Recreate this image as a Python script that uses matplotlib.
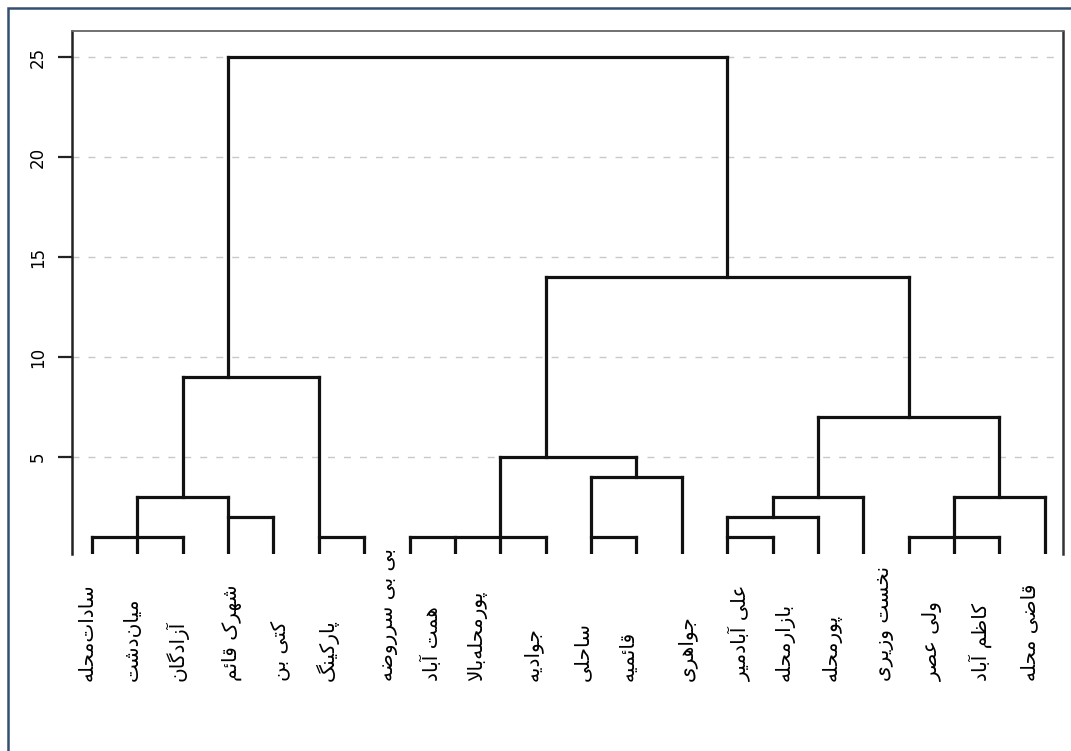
import matplotlib.pyplot as plt
import matplotlib.transforms as mtransforms
from matplotlib.patches import Rectangle
import numpy as np

# --- datos del dendrograma (posiciones en unidades de hoja, alturas de fusión) ---
labels = ['سادات‌محله', 'میان‌دشت', 'آزادگان', 'شهرک قائم', 'کتی بن', 'پارکینگ',
          'بی بی سرروضه', 'همت آباد', 'پورمحله‌بالا', 'جوادیه', 'ساحلی', 'قائمیه',
          'جواهری', 'علی آبادمیر', 'بازارمحله', 'پورمحله', 'نخست وزیری', 'ولی عصر',
          'کاظم آباد', 'قاضی محله']
label_x = [-0.11, 0.88, 1.87, 3.09, 4.14, 5.18, 6.54, 7.49, 8.48, 9.72, 10.8,
           11.81, 13.11, 14.28, 15.27, 16.31, 17.47, 18.53, 19.57, 20.67]

# altura hasta la que sube cada hoja (22 hojas)
leaf_top = [1, 3, 1, 3, 2, 9, 1, 1, 1, 5, 1, 4, 1, 4, 2, 1, 2, 3, 1, 3, 1, 3]

# barras horizontales: hoja izq, hoja der, altura
bar_left = [0, 1, 3, 5, 2, 3, 7, 9, 11, 11, 10, 16, 15, 14, 14, 19, 18]
bar_right = [2, 3, 4, 6, 5, 14, 10, 12, 13, 12, 18, 20, 17, 16, 15, 21, 20]
bar_height = [1, 3, 2, 1, 9, 25, 1, 5, 4, 1, 14, 7, 3, 2, 1, 3, 1]

# troncos verticales entre fusiones: x, desde, hasta
stem_x = [2, 3, 14, 10, 12, 18, 16, 15, 20]
stem_from = [3, 9, 14, 5, 4, 7, 3, 2, 3]
stem_to = [9, 25, 25, 14, 5, 14, 7, 3, 7]

yticks = [5, 10, 15, 20, 25]


# --- formas contextuales del persa (matplotlib no hace shaping) ---
FORMS = {
    'ا': ('\uFE8D', '\uFE8E', None, None),
    'آ': ('\uFE81', '\uFE82', None, None),
    'ب': ('\uFE8F', '\uFE90', '\uFE91', '\uFE92'),
    'پ': ('\uFB56', '\uFB57', '\uFB58', '\uFB59'),
    'ت': ('\uFE95', '\uFE96', '\uFE97', '\uFE98'),
    'ج': ('\uFE9D', '\uFE9E', '\uFE9F', '\uFEA0'),
    'ح': ('\uFEA1', '\uFEA2', '\uFEA3', '\uFEA4'),
    'خ': ('\uFEA5', '\uFEA6', '\uFEA7', '\uFEA8'),
    'د': ('\uFEA9', '\uFEAA', None, None),
    'ر': ('\uFEAD', '\uFEAE', None, None),
    'ز': ('\uFEAF', '\uFEB0', None, None),
    'س': ('\uFEB1', '\uFEB2', '\uFEB3', '\uFEB4'),
    'ش': ('\uFEB5', '\uFEB6', '\uFEB7', '\uFEB8'),
    'ص': ('\uFEB9', '\uFEBA', '\uFEBB', '\uFEBC'),
    'ض': ('\uFEBD', '\uFEBE', '\uFEBF', '\uFEC0'),
    'ظ': ('\uFEC5', '\uFEC6', '\uFEC7', '\uFEC8'),
    'ع': ('\uFEC9', '\uFECA', '\uFECB', '\uFECC'),
    'ق': ('\uFED5', '\uFED6', '\uFED7', '\uFED8'),
    'ک': ('\uFB8E', '\uFB8F', '\uFB90', '\uFB91'),
    'گ': ('\uFB92', '\uFB93', '\uFB94', '\uFB95'),
    'ل': ('\uFEDD', '\uFEDE', '\uFEDF', '\uFEE0'),
    'م': ('\uFEE1', '\uFEE2', '\uFEE3', '\uFEE4'),
    'ن': ('\uFEE5', '\uFEE6', '\uFEE7', '\uFEE8'),
    'ه': ('\uFEE9', '\uFEEA', '\uFEEB', '\uFEEC'),
    'و': ('\uFEED', '\uFEEE', None, None),
    'ی': ('\uFBFC', '\uFBFD', '\uFBFE', '\uFBFF'),
    'ئ': ('\uFE89', '\uFE8A', '\uFE8B', '\uFE8C'),
}


def dual(c):
    return c in FORMS and FORMS[c][2] is not None


def shape(word):
    out = []
    i = 0
    n = len(word)
    while i < n:
        c = word[i]
        if c not in FORMS:
            out.append('' if c == '\u200c' else c)
            i += 1
            continue
        joins_prev = i > 0 and dual(word[i - 1])
        if c == 'ل' and i + 1 < n and word[i + 1] == 'ا':
            out.append('\uFEFC' if joins_prev else '\uFEFB')
            i += 2
            continue
        joins_next = dual(c) and i + 1 < n and word[i + 1] in FORMS
        iso, fin, ini, med = FORMS[c]
        if joins_prev and joins_next:
            out.append(med)
        elif joins_prev:
            out.append(fin)
        elif joins_next:
            out.append(ini)
        else:
            out.append(iso)
        i += 1
    return ''.join(reversed(out))


# --- figura ---
fig = plt.figure(figsize=(10.71, 7.51), dpi=100)
ax = fig.add_axes([72 / 1071, 1 - 554 / 751, (1063 - 72) / 1071, (554 - 31) / 751])

for y in yticks:
    ax.axhline(y, color='#c8c8c8', lw=1, dashes=(5, 6.5), zorder=1)

lc = '#111111'
lw = 2.3
for i, top in enumerate(leaf_top):
    ax.plot([i, i], [0, top], color=lc, lw=lw, solid_capstyle='projecting', zorder=3)
for l, r, h in zip(bar_left, bar_right, bar_height):
    ax.plot([l, r], [h, h], color=lc, lw=lw, solid_capstyle='projecting', zorder=3)
for x, a, b in zip(stem_x, stem_from, stem_to):
    ax.plot([x, x], [a, b], color=lc, lw=lw, solid_capstyle='projecting', zorder=3)

ax.set_xlim(-0.44, 21.4)
ax.set_ylim(0.15, 26.3)
ax.set_xticks([])
ax.set_yticks(yticks)
ax.set_yticklabels([str(t) for t in yticks], rotation=90, va='center', fontsize=12)
ax.tick_params(axis='y', length=10, width=1.6, pad=8, color='#222222')
ax.spines['bottom'].set_visible(False)
ax.spines['left'].set_linewidth(1.8)
ax.spines['left'].set_color('#222222')
ax.spines['right'].set_linewidth(1.8)
ax.spines['right'].set_color('#333333')
ax.spines['top'].set_linewidth(1.3)
ax.spines['top'].set_color('#666666')

# etiquetas de barrios, giradas
trans = mtransforms.blended_transform_factory(ax.transData, fig.transFigure)
for x, name in zip(label_x, labels):
    ax.text(x, 1 - 681 / 751, shape(name), rotation=90, ha='center', va='bottom',
            fontsize=14.5, family=['DejaVu Sans'], color='black',
            transform=trans, clip_on=False)

# marco exterior
fig.patches.append(Rectangle((7.5 / 1071, -0.1), 1.2, 1 - 8 / 751 + 0.1,
                             transform=fig.transFigure, fill=False,
                             edgecolor='#34506f', lw=1.8, clip_on=False))

fig.savefig('out.png', dpi=100)
